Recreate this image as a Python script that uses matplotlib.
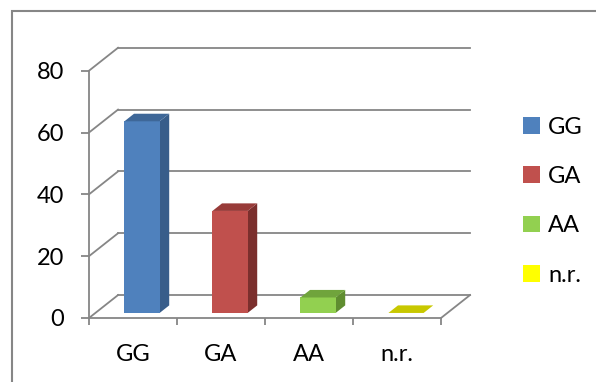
import matplotlib.pyplot as plt
from matplotlib.patches import Polygon, Patch, Rectangle

plt.rcParams['font.family'] = ['Lato', 'DejaVu Sans']

categories = ['GG', 'GA', 'AA', 'n.r.']
values = [62, 33, 5, 0]
front_colors = ['#4F81BD', '#C0504D', '#92D050', '#FFFF00']
side_colors = ['#385D8A', '#7B2F2D', '#5F8D30', '#A6A600']
top_colors = ['#3E6798', '#983B39', '#70A43C', '#C8C800']
yticks = [0, 20, 40, 60, 80]

# oblique projection: full depth shifts by DX categories / DY value units
DX, DY = 0.33, 7.42
GRID = '#868686'
FS = 17


def proj(x, v, d):
    return (x + d * DX, v + d * DY)


fig = plt.figure(figsize=(5.96, 3.82), dpi=100)
# chart area border (runs off the right and bottom edges)
fig.patches.append(Rectangle((12 / 596, -0.05), 1.0, (382 - 11) / 382 + 0.05,
                             transform=fig.transFigure, fill=False,
                             edgecolor=GRID, lw=1.5))

ax = fig.add_axes([89 / 596, 64 / 382, 352 / 596, 247.3 / 382])
ax.set_xlim(0, 4)
ax.set_ylim(0, 80)
ax.patch.set_visible(False)
for s in ['top', 'right']:
    ax.spines[s].set_visible(False)
for s in ['left', 'bottom']:
    ax.spines[s].set_color(GRID)
    ax.spines[s].set_linewidth(1.3)

# back wall gridlines and side-wall diagonals
for v in yticks:
    x0, y0 = proj(0, v, 1)
    x1, y1 = proj(4, v, 1)
    ax.plot([x0, x1], [y0, y1], color=GRID, lw=1.3, clip_on=False, zorder=1)
    ax.plot([0, x0], [v, y0], color=GRID, lw=1.3, clip_on=False, zorder=1)
# floor right edge
xr, yr = proj(4, 0, 1)
ax.plot([4, xr], [0, yr], color=GRID, lw=1.3, clip_on=False, zorder=1)

# bars
bar_w, bar_off = 0.40, 0.33
d_front, d_back = 0.22, 0.55
for i, h in enumerate(values):
    xa = i + bar_off
    xb = xa + bar_w
    top = [proj(xa, h, d_front), proj(xb, h, d_front),
           proj(xb, h, d_back), proj(xa, h, d_back)]
    if h > 0:
        front = [proj(xa, 0, d_front), proj(xb, 0, d_front),
                 proj(xb, h, d_front), proj(xa, h, d_front)]
        side = [proj(xb, 0, d_front), proj(xb, 0, d_back),
                proj(xb, h, d_back), proj(xb, h, d_front)]
        ax.add_patch(Polygon(side, closed=True, facecolor=side_colors[i],
                             edgecolor='none', zorder=3, clip_on=False))
        ax.add_patch(Polygon(front, closed=True, facecolor=front_colors[i],
                             edgecolor='none', zorder=4, clip_on=False))
    ax.add_patch(Polygon(top, closed=True, facecolor=top_colors[i],
                         edgecolor='none', zorder=4, clip_on=False))

ax.set_yticks(yticks)
ax.set_yticklabels([str(t) for t in yticks])
ax.tick_params(axis='y', length=6, width=1.3, color=GRID, pad=12,
               labelsize=FS)
ax.set_xticks(range(5))
ax.set_xticklabels([])
ax.set_xticks([i + 0.5 for i in range(4)], minor=True)
ax.set_xticklabels(categories, minor=True)
ax.tick_params(axis='x', which='major', length=5, width=1.3, color=GRID)
ax.tick_params(axis='x', which='minor', length=0, pad=19, labelsize=FS)

handles = [Patch(facecolor=c, edgecolor='none') for c in front_colors]
fig.legend(handles, categories, loc='center left',
           bbox_to_anchor=(502 / 596, (382 - 201) / 382), frameon=False,
           fontsize=FS, handlelength=0.7, handleheight=0.7,
           handletextpad=0.35, labelspacing=1.2)

fig.savefig('out.png', dpi=100)
